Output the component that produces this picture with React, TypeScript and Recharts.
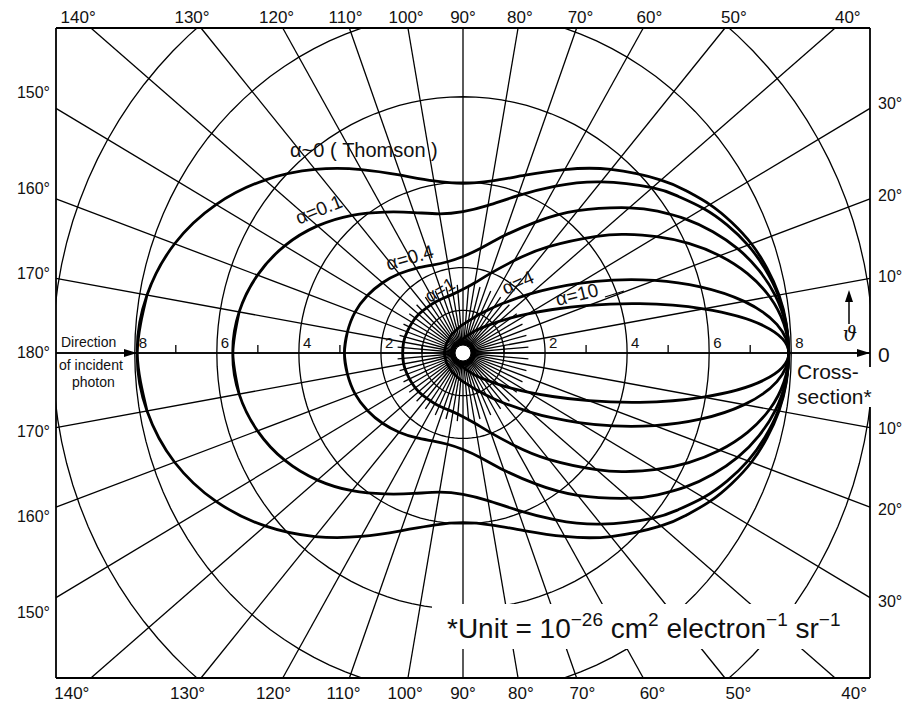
import { ScatterChart, Scatter, XAxis, YAxis, ReferenceLine, ReferenceDot } from 'recharts'

// scattering angle (deg, measured from the forward direction)
const ANGLES = [0, 5, 10, 15, 20, 25, 30, 35, 40, 50, 60, 70, 80, 90, 100, 110, 120, 130, 140, 150, 160, 170, 180]

// differential cross-section, units of 1e-26 cm^2 / electron / sr
const THOMSON = [7.94, 7.91, 7.82, 7.67, 7.48, 7.23, 6.95, 6.63, 6.3, 5.61, 4.96, 4.43, 4.09, 3.97, 4.09, 4.43, 4.96, 5.61, 6.3, 6.95, 7.48, 7.82, 7.94]
const ALPHA_01 = [7.94, 7.9, 7.8, 7.62, 7.39, 7.1, 6.77, 6.4, 6.02, 5.23, 4.51, 3.92, 3.51, 3.31, 3.31, 3.5, 3.81, 4.21, 4.63, 5.02, 5.33, 5.54, 5.61]
const ALPHA_04 = [7.94, 7.89, 7.73, 7.47, 7.13, 6.72, 6.27, 5.79, 5.29, 4.35, 3.54, 2.92, 2.49, 2.26, 2.17, 2.19, 2.29, 2.42, 2.56, 2.69, 2.8, 2.86, 2.89]
const ALPHA_1 = [7.94, 7.85, 7.59, 7.18, 6.66, 6.07, 5.45, 4.84, 4.25, 3.25, 2.5, 1.99, 1.67, 1.49, 1.4, 1.37, 1.37, 1.38, 1.41, 1.43, 1.45, 1.47, 1.47]
const ALPHA_4 = [7.94, 7.68, 6.96, 5.99, 4.97, 4.04, 3.26, 2.64, 2.16, 1.52, 1.14, 0.91, 0.76, 0.67, 0.6, 0.55, 0.52, 0.49, 0.47, 0.46, 0.45, 0.45, 0.45]
const ALPHA_10 = [7.94, 7.35, 5.95, 4.46, 3.26, 2.41, 1.83, 1.43, 1.15, 0.8, 0.6, 0.47, 0.39, 0.33, 0.29, 0.26, 0.24, 0.22, 0.21, 0.2, 0.19, 0.19, 0.19]

const GRID_RADII = [1, 2, 4, 6, 8, 10]
const TOP_LABELS = [140, 130, 120, 110, 100, 90, 80, 70, 60, 50, 40]
const LEFT_LABELS = [150, 160, 170, 180, 170, 160, 150]
const RIGHT_LABELS = [30, 20, 10, 0, 10, 20, 30]
const SCALE_MAJOR = [2, 4, 6, 8]
const SCALE_MINOR = [1, 3, 5, 7]

const XR = 9.92
const YR = 7.61
const FONT = '"Liberation Sans", Arial, sans-serif'

const rad = (d: number) => (d * Math.PI) / 180
const pt = (a: number, r: number, s: number) => ({ x: r * Math.cos(rad(a)), y: s * r * Math.sin(rad(a)) })

// closed loop: upper half 180 -> 0, lower half 0 -> 180, overlapping one step at the back
function closedCurve(vals: number[]) {
  const n = ANGLES.length
  const pts = [pt(ANGLES[n - 2], vals[n - 2], -1)]
  for (let i = n - 1; i >= 0; i--) pts.push(pt(ANGLES[i], vals[i], 1))
  for (let i = 1; i < n; i++) pts.push(pt(ANGLES[i], vals[i], -1))
  pts.push(pt(ANGLES[n - 2], vals[n - 2], 1))
  return pts
}

function circle(r: number) {
  const pts = []
  for (let d = 0; d <= 360; d += 3) pts.push(pt(d, r, 1))
  return pts
}

function spokeEnd(a: number) {
  const c = Math.cos(rad(a))
  const s = Math.sin(rad(a))
  const t = Math.min(Math.abs(c) > 1e-9 ? XR / Math.abs(c) : Infinity, Math.abs(s) > 1e-9 ? YR / Math.abs(s) : Infinity)
  return { x: t * c, y: t * s }
}

const cot = (a: number) => Math.cos(rad(a)) / Math.sin(rad(a))
const TOP_TICKS = TOP_LABELS.map(a => 7.87 * cot(a))
const BOTTOM_TICKS = TOP_LABELS.map(a => 8.0 * cot(a))
const mid = (LEFT_LABELS.length - 1) / 2
const LEFT_TICKS = LEFT_LABELS.map((a, i) => Math.sign(mid - i) * 10.54 * Math.abs(Math.tan(rad(a))))
const RIGHT_TICKS = RIGHT_LABELS.map((a, i) => Math.sign(mid - i) * 10.1 * Math.abs(Math.tan(rad(a))))

const nearest = (arr: number[], v: number) => {
  let best = 0
  arr.forEach((t, i) => { if (Math.abs(t - v) < Math.abs(arr[best] - v)) best = i })
  return best
}

const TopTick = (p: any) => (
  <text x={p.x} y={p.y - 5} textAnchor="middle" fontSize={17} fontFamily={FONT} fill="#111">
    {TOP_LABELS[nearest(TOP_TICKS, p.payload.value)]}°
  </text>
)
const BottomTick = (p: any) => (
  <text x={p.x} y={p.y + 21} textAnchor="middle" fontSize={17} fontFamily={FONT} fill="#111">
    {TOP_LABELS[nearest(BOTTOM_TICKS, p.payload.value)]}°
  </text>
)
const LeftTick = (p: any) => (
  <text x={p.x - 6} y={p.y + 5} textAnchor="end" fontSize={16} fontFamily={FONT} fill="#111">
    {LEFT_LABELS[nearest(LEFT_TICKS, p.payload.value)]}°
  </text>
)
const RightTick = (p: any) => {
  const a = RIGHT_LABELS[nearest(RIGHT_TICKS, p.payload.value)]
  if (a === 0) {
    return <text x={p.x + 8} y={p.y + 9} fontSize={21} fontFamily={FONT} fill="#111">0</text>
  }
  return <text x={p.x + 8} y={p.y + 5} fontSize={16} fontFamily={FONT} fill="#111">{a}°</text>
}

const noDot = () => <g />
const majorLabel = (p: any) => (
  <text x={p.cx + 4} y={p.cy - 5} fontSize={15} fontFamily={FONT} fill="#111">{Math.abs(p.payload.x)}</text>
)
const minorTick = (p: any) => <line x1={p.cx} x2={p.cx} y1={p.cy} y2={p.cy - 8} stroke="#000" strokeWidth={1.3} />

const CURVES = [THOMSON, ALPHA_01, ALPHA_04, ALPHA_1, ALPHA_4, ALPHA_10]
const SPOKES = Array.from({ length: 36 }, (_, i) => i * 10)
const INNER_SPOKES = Array.from({ length: 36 }, (_, i) => i * 10 + 5)

const axisLine = { stroke: '#000', strokeWidth: 1.8 }

export default function App() {
  return (
    <div style={{ position: 'relative', width: 911, height: 706, background: '#fff' }}>
      <style>{'body{margin:0}'}</style>
      <ScatterChart width={911} height={706} margin={{ top: 0, right: 0, bottom: 0, left: 0 }}>
        <XAxis xAxisId="b" dataKey="x" type="number" domain={[-XR, XR]} allowDataOverflow ticks={BOTTOM_TICKS}
          interval={0} tickLine={false} tickSize={0} tickMargin={0} axisLine={axisLine} height={28} tick={<BottomTick />} />
        <XAxis xAxisId="t" dataKey="x" type="number" orientation="top" domain={[-XR, XR]} allowDataOverflow ticks={TOP_TICKS}
          interval={0} tickLine={false} tickSize={0} tickMargin={0} axisLine={axisLine} height={28} tick={<TopTick />} />
        <YAxis yAxisId="l" dataKey="y" type="number" domain={[-YR, YR]} allowDataOverflow ticks={LEFT_TICKS}
          interval={0} tickLine={false} tickSize={0} tickMargin={0} axisLine={axisLine} width={56} tick={<LeftTick />} />
        <YAxis yAxisId="r" dataKey="y" type="number" orientation="right" domain={[-YR, YR]} allowDataOverflow ticks={RIGHT_TICKS}
          interval={0} tickLine={false} tickSize={0} tickMargin={0} axisLine={axisLine} width={41} tick={<RightTick />} />

        {SPOKES.map(a => (
          <ReferenceLine key={'s' + a} xAxisId="b" yAxisId="l" segment={[{ x: 0, y: 0 }, spokeEnd(a)]}
            stroke="#000" strokeWidth={1.3} ifOverflow="visible" />
        ))}
        {INNER_SPOKES.map(a => (
          <ReferenceLine key={'i' + a} xAxisId="b" yAxisId="l" segment={[{ x: 0, y: 0 }, pt(a, 1.6, 1)]}
            stroke="#000" strokeWidth={1.3} ifOverflow="visible" />
        ))}
        {GRID_RADII.map(r => (
          <Scatter key={'g' + r} xAxisId="b" yAxisId="l" data={circle(r)} fill="#000" shape={noDot}
            line={{ stroke: '#000', strokeWidth: 1.3 }} lineJointType="linear" isAnimationActive={false} />
        ))}
        <ReferenceLine xAxisId="b" yAxisId="l" y={0} stroke="#000" strokeWidth={1.6} />

        {CURVES.map((vals, i) => (
          <Scatter key={'c' + i} xAxisId="b" yAxisId="l" data={closedCurve(vals)} fill="#000" shape={noDot}
            line={{ stroke: '#000', strokeWidth: 2.8 }} lineJointType="natural" isAnimationActive={false} />
        ))}

        <Scatter xAxisId="b" yAxisId="l" data={[...SCALE_MAJOR.map(v => ({ x: -v, y: 0 })), ...SCALE_MAJOR.map(v => ({ x: v, y: 0 }))]}
          shape={majorLabel} isAnimationActive={false} />
        <Scatter xAxisId="b" yAxisId="l" data={[...SCALE_MINOR.map(v => ({ x: -v, y: 0 })), ...SCALE_MINOR.map(v => ({ x: v, y: 0 }))]}
          shape={minorTick} isAnimationActive={false} />
        <ReferenceDot xAxisId="b" yAxisId="l" x={0} y={0} r={13} fill="#000" stroke="none" ifOverflow="visible" />
        <ReferenceDot xAxisId="b" yAxisId="l" x={0} y={0} r={8} fill="#fff" stroke="#000" strokeWidth={1} ifOverflow="visible" />
      </ScatterChart>

      <svg width={911} height={706} style={{ position: 'absolute', left: 0, top: 0, pointerEvents: 'none' }}
        fontFamily={FONT} fill="#111">
        <text x={290} y={157} fontSize={20}>α~0 ( Thomson )</text>
        <text x={319} y={216} fontSize={19} textAnchor="middle" transform="rotate(-22 319 210)">α=0.1</text>
        <text x={410} y={264} fontSize={19} textAnchor="middle" transform="rotate(-16 410 258)">α=0.4</text>
        <text x={440} y={296} fontSize={18} textAnchor="middle" transform="rotate(-30 440 290)">α=1</text>
        <text x={518} y={289} fontSize={19} textAnchor="middle" transform="rotate(-24 518 283)">α=4</text>
        <text x={577} y={301} fontSize={19} textAnchor="middle" transform="rotate(-14 577 295)">α=10</text>
        <line x1={605} y1={297} x2={624} y2={291} stroke="#000" strokeWidth={1.2} />

        <text x={61} y={347} fontSize={14}>Direction</text>
        <text x={59} y={370} fontSize={14}>of incident</text>
        <text x={72} y={387} fontSize={14}>photon</text>
        <path d="M124,349 L137,353 L124,357 Z" fill="#000" />
        <path d="M857,349 L870,353 L857,357 Z" fill="#000" />

        <rect x={864} y={367} width={14} height={40} fill="#fff" />
        <text x={797} y={379} fontSize={21}>Cross-</text>
        <text x={797} y={404} fontSize={21}>section*</text>

        <line x1={849} y1={324} x2={849} y2={298} stroke="#000" strokeWidth={1.5} />
        <path d="M845,302 L849,290 L853,302 Z" fill="#000" />
        <text x={850} y={341} fontSize={20} textAnchor="middle" fontStyle="italic" fontFamily='"DejaVu Serif", serif'>ϑ</text>

        <rect x={432} y={604} width={434} height={45} fill="#fff" />
        <text x={447} y={638} fontSize={28}>
          <tspan>*Unit = 10</tspan>
          <tspan dy={-12} fontSize={19}>−26</tspan>
          <tspan dy={12}> cm</tspan>
          <tspan dy={-12} fontSize={19}>2</tspan>
          <tspan dy={12}> electron</tspan>
          <tspan dy={-12} fontSize={19}>−1</tspan>
          <tspan dy={12}> sr</tspan>
          <tspan dy={-12} fontSize={19}>−1</tspan>
        </text>
      </svg>
    </div>
  )
}
